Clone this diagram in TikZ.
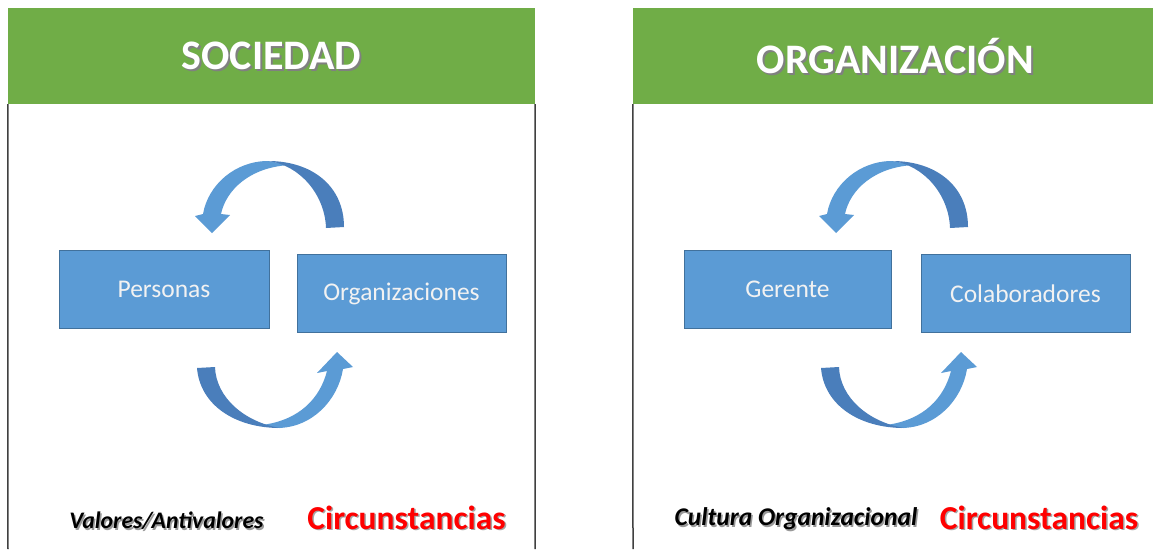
\documentclass[tikz,border=0pt]{standalone}
\usepackage{fontspec}
\setmainfont{Carlito}
\definecolor{hdrgreen}{HTML}{70AD47}
\definecolor{boxfill}{HTML}{5B9BD5}
\definecolor{boxline}{HTML}{41719C}
\definecolor{arrlight}{HTML}{5B9BD5}
\definecolor{arrdark}{HTML}{4A7EBB}
\definecolor{panelline}{HTML}{404040}
\definecolor{redtxt}{HTML}{FF0000}
\begin{document}
\begin{tikzpicture}[x=1pt,y=-1pt,
  hdr/.style={fill=hdrgreen, draw=none, minimum height=96pt, inner sep=0pt},
  titletext/.style={text=white, font=\bfseries\fontsize{42}{48}\selectfont, inner sep=0pt},
  titleshadow/.style={text=black!50, font=\bfseries\fontsize{42}{48}\selectfont, inner sep=0pt},
  stepbox/.style={draw=boxline, line width=1pt, fill=boxfill, minimum width=209pt, minimum height=78pt, text=white!95!black, font=\fontsize{25.5}{29}\selectfont, inner sep=0pt},
  panel/.style={draw=panelline, line width=1.5pt},
  notetext/.style={text=black, inner sep=0pt},
  noteshadow/.style={text=black!40, inner sep=0pt},
  notea/.style={font=\bfseries\itshape\fontsize{23.7}{28}\selectfont},
  noteb/.style={font=\bfseries\itshape\fontsize{25.5}{30}\selectfont},
  redtext/.style={text=redtxt, font=\bfseries\fontsize{33.5}{38}\selectfont, inner sep=0pt},
  redshadow/.style={text=black!35, font=\bfseries\fontsize{33.5}{38}\selectfont, inner sep=0pt},
  toparrow/.pic={
    \fill[arrlight] (268,161) .. controls (235,161) and (208,185) .. (203,214)
      -- (195,216) -- (212,233) -- (230,215) -- (221,214)
      .. controls (226,190) and (250,167) .. (290,165) -- cycle;
    \fill[arrdark] (344,227) .. controls (344,186) and (312,161) .. (268,161)
      .. controls (300,165) and (325,195) .. (326,228) -- cycle;
  },
  botarrow/.pic={
    \fill[arrlight] (277,428) .. controls (312,428) and (338,400) .. (343,369)
      -- (353,367) -- (337,352) -- (317,373) -- (327,371)
      .. controls (320,398) and (300,420) .. (262,425) -- cycle;
    \fill[arrdark] (197,368) .. controls (200,405) and (235,428) .. (280,428)
      .. controls (245,422) and (216,398) .. (215,367) -- cycle;
  }
]
\useasboundingbox (0,0) rectangle (1153,549);
\fill[white] (0,0) rectangle (1153,549);

% headers
\node[hdr, minimum width=527pt] (h1) at (271.5,56) {};
\node[hdr, minimum width=520pt] (h2) at (893,56) {};
\node[titleshadow] (t1s) at (273.5,58) {SOCIEDAD};
\node[titletext] (t1) at (271.5,56) {SOCIEDAD};
\node[titleshadow] (t2s) at (897.5,58) {ORGANIZACIÓN};
\node[titletext] (t2) at (895.5,56) {ORGANIZACIÓN};

% panel borders
\coordinate (b1) at (8,549);
\coordinate (b2) at (535,549);
\coordinate (b3) at (633,549);
\draw[panel] (h1.south west) -- (b1);
\draw[panel] (h1.south east) -- (b2);
\draw[panel] (h2.south west) -- (b3);

% boxes
\node[stepbox, minimum width=210pt] (per) at (164,289) {Personas};
\node[stepbox] (org) at (401.5,293.5) {Organizaciones};
\node[stepbox, minimum width=207pt] (ger) at (787.5,289) {Gerente};
\node[stepbox] (col) at (1025.5,293.5) {Colaboradores};

% curved arrows
\pic (a1) at (0,0) {toparrow};
\pic (a2) at (0,0) {botarrow};
\pic (a3) at (624,0) {toparrow};
\pic (a4) at (624,0) {botarrow};

% bottom texts
\node[noteshadow, notea] (v1s) at (168,522.5) {Valores/Antivalores};
\node[notetext, notea] (v1) at (166.5,521) {Valores/Antivalores};
\node[redshadow] (c1s) at (408,519) {Circunstancias};
\node[redtext] (c1) at (406.5,517.5) {Circunstancias};
\node[noteshadow, noteb] (v2s) at (797.5,520.5) {Cultura Organizacional};
\node[notetext, noteb] (v2) at (796,519) {Cultura Organizacional};
\node[redshadow] (c2s) at (1040.5,519) {Circunstancias};
\node[redtext] (c2) at (1039,517.5) {Circunstancias};
\end{tikzpicture}
\end{document}
